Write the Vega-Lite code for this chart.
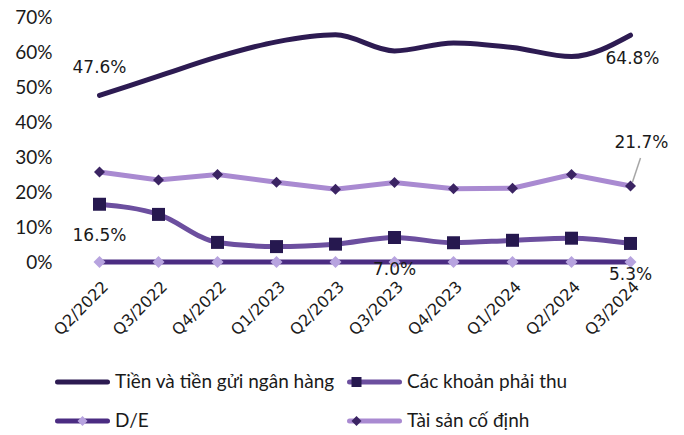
{
  "$schema": "https://vega.github.io/schema/vega-lite/v6.json",
  "width": 590,
  "height": 245,
  "autosize": {"type": "none"},
  "padding": {"left": 70, "top": 17, "right": 24, "bottom": 173},
  "config": {"view": {"stroke": null}, "font": "DejaVu Sans"},
  "data": {
    "values": [
      {"quarter": "Q2/2022", "series": "Tiền và tiền gửi ngân hàng", "value": 0.476},
      {"quarter": "Q3/2022", "series": "Tiền và tiền gửi ngân hàng", "value": 0.531},
      {"quarter": "Q4/2022", "series": "Tiền và tiền gửi ngân hàng", "value": 0.586},
      {"quarter": "Q1/2023", "series": "Tiền và tiền gửi ngân hàng", "value": 0.629},
      {"quarter": "Q2/2023", "series": "Tiền và tiền gửi ngân hàng", "value": 0.649},
      {"quarter": "Q3/2023", "series": "Tiền và tiền gửi ngân hàng", "value": 0.603},
      {"quarter": "Q4/2023", "series": "Tiền và tiền gửi ngân hàng", "value": 0.626},
      {"quarter": "Q1/2024", "series": "Tiền và tiền gửi ngân hàng", "value": 0.613},
      {"quarter": "Q2/2024", "series": "Tiền và tiền gửi ngân hàng", "value": 0.587},
      {"quarter": "Q3/2024", "series": "Tiền và tiền gửi ngân hàng", "value": 0.648},
      {"quarter": "Q2/2022", "series": "Các khoản phải thu", "value": 0.165},
      {"quarter": "Q3/2022", "series": "Các khoản phải thu", "value": 0.136},
      {"quarter": "Q4/2022", "series": "Các khoản phải thu", "value": 0.056},
      {"quarter": "Q1/2023", "series": "Các khoản phải thu", "value": 0.044},
      {"quarter": "Q2/2023", "series": "Các khoản phải thu", "value": 0.051},
      {"quarter": "Q3/2023", "series": "Các khoản phải thu", "value": 0.070},
      {"quarter": "Q4/2023", "series": "Các khoản phải thu", "value": 0.055},
      {"quarter": "Q1/2024", "series": "Các khoản phải thu", "value": 0.062},
      {"quarter": "Q2/2024", "series": "Các khoản phải thu", "value": 0.068},
      {"quarter": "Q3/2024", "series": "Các khoản phải thu", "value": 0.053},
      {"quarter": "Q2/2022", "series": "D/E", "value": 0},
      {"quarter": "Q3/2022", "series": "D/E", "value": 0},
      {"quarter": "Q4/2022", "series": "D/E", "value": 0},
      {"quarter": "Q1/2023", "series": "D/E", "value": 0},
      {"quarter": "Q2/2023", "series": "D/E", "value": 0},
      {"quarter": "Q3/2023", "series": "D/E", "value": 0},
      {"quarter": "Q4/2023", "series": "D/E", "value": 0},
      {"quarter": "Q1/2024", "series": "D/E", "value": 0},
      {"quarter": "Q2/2024", "series": "D/E", "value": 0},
      {"quarter": "Q3/2024", "series": "D/E", "value": 0},
      {"quarter": "Q2/2022", "series": "Tài sản cố định", "value": 0.257},
      {"quarter": "Q3/2022", "series": "Tài sản cố định", "value": 0.234},
      {"quarter": "Q4/2022", "series": "Tài sản cố định", "value": 0.250},
      {"quarter": "Q1/2023", "series": "Tài sản cố định", "value": 0.228},
      {"quarter": "Q2/2023", "series": "Tài sản cố định", "value": 0.208},
      {"quarter": "Q3/2023", "series": "Tài sản cố định", "value": 0.227},
      {"quarter": "Q4/2023", "series": "Tài sản cố định", "value": 0.209},
      {"quarter": "Q1/2024", "series": "Tài sản cố định", "value": 0.211},
      {"quarter": "Q2/2024", "series": "Tài sản cố định", "value": 0.250},
      {"quarter": "Q3/2024", "series": "Tài sản cố định", "value": 0.217}
    ]
  },
  "encoding": {
    "x": {
      "field": "quarter",
      "type": "ordinal",
      "scale": {
        "type": "point",
        "padding": 0.5,
        "domain": ["Q2/2022", "Q3/2022", "Q4/2022", "Q1/2023", "Q2/2023", "Q3/2023", "Q4/2023", "Q1/2024", "Q2/2024", "Q3/2024"]
      },
      "axis": {
        "title": null,
        "labelAngle": -45,
        "labelFont": "DejaVu Sans",
        "labelFontSize": 16,
        "labelColor": "#1a1a1a",
        "domain": false,
        "ticks": false,
        "grid": false,
        "labelPadding": 16
      }
    },
    "y": {
      "field": "value",
      "type": "quantitative",
      "scale": {"domain": [0, 0.7]},
      "axis": {
        "title": null,
        "values": [0, 0.1, 0.2, 0.3, 0.4, 0.5, 0.6, 0.7],
        "format": ".0%",
        "domain": false,
        "ticks": false,
        "grid": false,
        "labelFont": "Lato",
        "labelFontSize": 19,
        "labelPadding": 18,
        "labelColor": "#1a1a1a"
      }
    }
  },
  "layer": [
    {
      "transform": [{"filter": "datum.series === 'Tiền và tiền gửi ngân hàng' || datum.series === 'Các khoản phải thu'"}],
      "mark": {"type": "line", "interpolate": "monotone", "strokeWidth": 5, "strokeCap": "round"},
      "encoding": {
        "stroke": {
          "field": "series",
          "type": "nominal",
          "scale": {
            "domain": ["Tiền và tiền gửi ngân hàng", "Các khoản phải thu", "D/E", "Tài sản cố định"],
            "range": ["#2d1b52", "#6c4f9f", "#4b2c82", "#a98ad1"]
          },
          "legend": {
            "title": null, "orient": "none", "direction": "horizontal", "legendX": -15, "legendY": 354, "columns": 2,
            "symbolType": "stroke", "symbolSize": 2500, "symbolStrokeWidth": 5, "clipHeight": 22,
            "rowPadding": 17, "columnPadding": 12, "labelOffset": 5, "labelFont": "Lato",
            "labelFontSize": 19, "labelColor": "#1a1a1a", "labelLimit": 400, "padding": 0,
            "encode": {"symbols": {"update": {"strokeCap": {"value": "round"}}}}
          }
        }
      }
    },
    {
      "transform": [{"filter": "datum.series === 'D/E' || datum.series === 'Tài sản cố định'"}],
      "mark": {"type": "line", "interpolate": "linear", "strokeWidth": 5, "strokeCap": "round"},
      "encoding": {
        "stroke": {
          "field": "series",
          "type": "nominal",
          "scale": {
            "domain": ["Tiền và tiền gửi ngân hàng", "Các khoản phải thu", "D/E", "Tài sản cố định"],
            "range": ["#2d1b52", "#6c4f9f", "#4b2c82", "#a98ad1"]
          },
          "legend": {
            "title": null, "orient": "none", "direction": "horizontal", "legendX": -15, "legendY": 354, "columns": 2,
            "symbolType": "stroke", "symbolSize": 2500, "symbolStrokeWidth": 5, "clipHeight": 22,
            "rowPadding": 17, "columnPadding": 12, "labelOffset": 5, "labelFont": "Lato",
            "labelFontSize": 19, "labelColor": "#1a1a1a", "labelLimit": 400, "padding": 0,
            "encode": {"symbols": {"update": {"strokeCap": {"value": "round"}}}}
          }
        }
      }
    },
    {
      "transform": [{"filter": "datum.series === 'Các khoản phải thu'"}],
      "mark": {"type": "point", "filled": true, "opacity": 1, "size": 169},
      "encoding": {
        "fill": {
          "field": "series", "type": "nominal",
          "scale": {
            "domain": ["Các khoản phải thu", "D/E", "Tài sản cố định", "Tiền và tiền gửi ngân hàng"],
            "range": ["#26184f", "#b7a3df", "#3b2463", "transparent"]
          },
          "legend": {
            "title": null, "orient": "none", "direction": "horizontal", "legendX": 3, "legendY": 354, "columns": 2,
            "values": ["Tiền và tiền gửi ngân hàng", "Các khoản phải thu", "D/E", "Tài sản cố định"],
            "symbolSize": 100, "symbolStrokeWidth": 0, "clipHeight": 22,
            "rowPadding": 17, "columnPadding": 12, "labelOffset": 23, "labelFont": "Lato",
            "labelFontSize": 19, "labelOpacity": 0, "labelLimit": 400, "padding": 0
          }
        },
        "shape": {
          "field": "series", "type": "nominal",
          "scale": {
            "domain": ["Các khoản phải thu", "D/E", "Tài sản cố định", "Tiền và tiền gửi ngân hàng"],
            "range": ["square", "diamond", "diamond", "circle"]
          },
          "legend": {
            "title": null, "orient": "none", "direction": "horizontal", "legendX": 3, "legendY": 354, "columns": 2,
            "values": ["Tiền và tiền gửi ngân hàng", "Các khoản phải thu", "D/E", "Tài sản cố định"],
            "symbolSize": 100, "symbolStrokeWidth": 0, "clipHeight": 22,
            "rowPadding": 17, "columnPadding": 12, "labelOffset": 23, "labelFont": "Lato",
            "labelFontSize": 19, "labelOpacity": 0, "labelLimit": 400, "padding": 0
          }
        }
      }
    },
    {
      "transform": [{"filter": "datum.series === 'D/E'"}],
      "mark": {"type": "point", "filled": true, "opacity": 1, "size": 144},
      "encoding": {
        "fill": {"field": "series", "type": "nominal"},
        "shape": {"field": "series", "type": "nominal"}
      }
    },
    {
      "transform": [{"filter": "datum.series === 'Tài sản cố định'"}],
      "mark": {"type": "point", "filled": true, "opacity": 1, "size": 121},
      "encoding": {
        "fill": {"field": "series", "type": "nominal"},
        "shape": {"field": "series", "type": "nominal"}
      }
    },
    {
      "transform": [{"filter": "datum.series === 'Tài sản cố định' && datum.quarter === 'Q3/2024'"}],
      "mark": {"type": "rule", "color": "#a6a6a6", "strokeWidth": 1.5, "xOffset": 2, "yOffset": -4, "x2Offset": 10, "y2Offset": -28},
      "encoding": {
        "x2": {"field": "quarter"},
        "y2": {"field": "value"}
      }
    },
    {
      "transform": [{"filter": "datum.series === 'Tiền và tiền gửi ngân hàng' && datum.quarter === 'Q2/2022'"}],
      "mark": {"type": "text", "font": "DejaVu Sans", "fontSize": 17, "color": "#1a1a1a", "dy": -27, "align": "center", "baseline": "middle"},
      "encoding": {"text": {"field": "value", "type": "quantitative", "format": ".1%"}}
    },
    {
      "transform": [{"filter": "datum.series === 'Tiền và tiền gửi ngân hàng' && datum.quarter === 'Q3/2024'"}],
      "mark": {"type": "text", "font": "DejaVu Sans", "fontSize": 17, "color": "#1a1a1a", "dx": 2, "dy": 24, "align": "center", "baseline": "middle"},
      "encoding": {"text": {"field": "value", "type": "quantitative", "format": ".1%"}}
    },
    {
      "transform": [{"filter": "datum.series === 'Tài sản cố định' && datum.quarter === 'Q3/2024'"}],
      "mark": {"type": "text", "font": "DejaVu Sans", "fontSize": 17, "color": "#1a1a1a", "dx": 11, "dy": -43, "align": "center", "baseline": "middle"},
      "encoding": {"text": {"field": "value", "type": "quantitative", "format": ".1%"}}
    },
    {
      "transform": [{"filter": "datum.series === 'Các khoản phải thu' && (datum.quarter === 'Q2/2022' || datum.quarter === 'Q3/2023' || datum.quarter === 'Q3/2024')"}],
      "mark": {"type": "text", "font": "DejaVu Sans", "fontSize": 17, "color": "#1a1a1a", "dy": 32, "align": "center", "baseline": "middle"},
      "encoding": {"text": {"field": "value", "type": "quantitative", "format": ".1%"}}
    }
  ]
}
